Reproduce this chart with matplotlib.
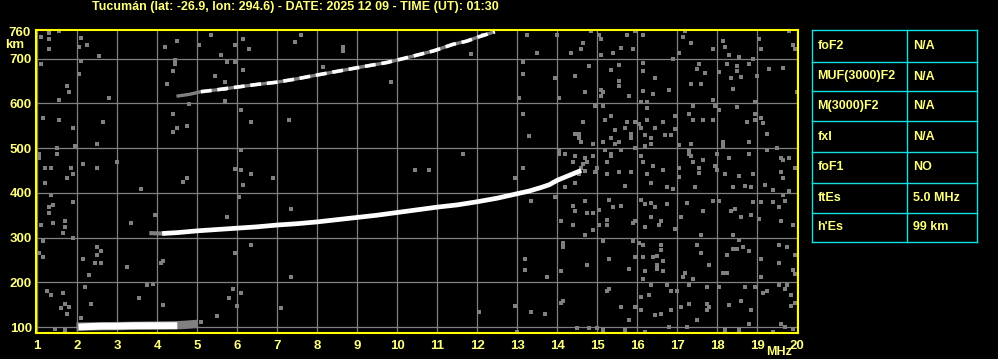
import matplotlib.pyplot as plt
import numpy as np

plt.rcParams['font.family'] = ['Liberation Sans', 'DejaVu Sans']
plt.rcParams['font.weight'] = 'bold'

W, H = 998, 359
TXT = '#ffff80'
AXC = '#ffff00'
CYAN = '#10e0e0'
GRID = '#808080'

title = 'Tucumán (lat: -26.9, lon: 294.6) - DATE: 2025 12 09 - TIME (UT): 01:30'

# traces (MHz, virtual height km)
es_mhz = [2.03, 2.3, 2.6, 3.0, 3.4, 3.8, 4.2, 4.5]
es_km = [100, 101, 102, 102, 103, 103, 103, 103]
es_tail_mhz = [1.98, 4.5, 4.7, 5.0]
es_tail_km = [101, 104, 105, 107]

f_mhz = [4.12, 4.5, 5.0, 5.5, 6.0, 6.5, 7.0, 7.5, 8.0, 8.5, 9.0, 9.5, 10.0,
         10.5, 11.0, 11.5, 12.0, 12.5, 13.0, 13.3, 13.6, 13.8, 14.0, 14.3, 14.6]
f_km = [309, 311, 315, 318, 321, 324, 328, 331, 335, 340, 345, 350, 356,
        362, 368, 373, 380, 388, 398, 404, 412, 418, 428, 439, 450]
f_tail_mhz = [3.8, 4.12]
f_tail_km = [310, 309]

f2_mhz = [4.48, 4.8, 5.09, 5.47, 5.97, 6.47, 6.97, 7.44, 7.98, 8.53, 9.15,
          9.73, 10.15, 10.9, 11.4, 11.74, 11.98, 12.44]
f2_km = [616, 620, 626, 630, 636, 642, 647, 654, 663, 672, 682,
         691, 700, 717, 732, 739, 747, 760]

noise_mhz = [1.09, 1.29, 1.30, 1.54, 1.29, 2.10, 2.24, 2.04, 2.54, 1.09, 2.09, 2.04, 1.74, 1.79,
             2.79, 1.54, 1.14, 1.54, 2.64, 1.89, 2.49, 1.94, 1.49, 1.04, 1.49, 1.04, 2.14, 1.19,
             1.34, 1.84, 2.49, 2.99, 1.89, 1.74, 4.19, 4.50, 5.04, 5.34, 5.94, 6.14, 6.29, 5.59,
             5.74, 5.94, 4.44, 4.44, 4.39, 4.24, 5.44, 5.69, 5.69, 5.69, 6.14, 4.79, 6.09, 4.39,
             6.34, 4.49, 4.74, 4.39, 6.09, 5.94, 6.09, 6.34, 4.74, 6.89, 7.29,
             1.19, 1.34, 1.89, 1.39, 1.29, 1.29, 1.39, 1.09, 1.69, 1.69, 1.64, 1.89, 1.14, 1.14,
             1.04, 2.14, 2.49, 2.59, 2.49, 2.44, 2.59, 2.29, 3.24, 3.34, 3.94, 3.59, 4.14, 4.09,
             3.74, 3.89, 2.19, 1.24, 1.34, 1.64, 1.69, 1.79, 1.59, 1.74, 2.34, 2.09, 1.44, 1.69,
             3.54, 4.14, 5.49, 5.79, 5.89, 6.09, 5.99, 5.74, 5.94, 6.34, 6.04, 6.14, 7.09, 4.64, 5.09,
             7.59, 7.44, 8.64, 8.64, 9.84, 8.14, 13.24, 13.49, 13.14, 13.14, 13.04, 13.14, 13.29,
             11.64, 10.44, 10.79, 13.14, 12.94, 11.84, 12.14,
             7.34, 7.34, 13.34, 13.19, 13.19, 12.94, 13.34, 12.04, 12.99,
             13.99, 14.84, 15.04, 15.74, 15.94, 16.14, 15.09, 14.64, 15.59, 15.89, 15.39, 14.34, 14.59,
             15.09, 17.14, 17.34, 17.19, 18.14, 18.19, 17.89, 17.04, 18.29, 18.54, 18.89, 19.04, 19.09,
             19.79, 19.89, 19.94, 16.89, 14.79, 15.34, 15.54, 16.14, 16.14, 13.94, 14.44, 15.54, 15.54,
             16.44, 17.54, 17.49, 17.69, 18.04, 18.24, 18.49, 18.49, 18.79, 18.99, 19.29, 19.64, 18.34,
             18.59, 17.34, 17.59, 18.39, 14.69, 15.09, 15.14, 15.09, 14.04, 15.79, 16.14, 16.39, 16.79,
             17.89, 19.99, 14.94, 15.14, 16.24, 16.24, 16.09, 17.39, 17.94, 18.49, 18.94, 18.04, 17.29,
             17.39, 15.19, 15.34, 15.74, 15.94, 16.04, 16.24, 16.64, 16.94, 17.64, 17.89, 18.94, 18.94,
             19.09, 19.14, 18.74, 14.64, 15.69, 15.44, 15.84, 16.09, 16.19, 16.69, 16.84, 16.94, 16.44,
             16.34, 14.44, 14.54, 14.54, 14.59, 15.34, 15.14, 14.89, 15.84, 15.54, 15.44, 16.19, 16.34,
             17.04, 17.34, 18.14, 18.14, 19.24, 18.79, 14.04, 14.04, 14.19, 15.19, 15.34, 15.34, 15.59,
             15.94, 16.09, 17.29, 17.29, 17.34, 17.99, 18.29, 18.79, 19.24, 19.49, 19.59, 19.64, 19.79,
             14.44, 14.69, 14.89, 14.74, 14.64, 14.39, 14.59, 14.69, 14.94, 14.54, 14.99, 15.24, 15.24,
             15.54, 15.84, 16.14, 16.39, 16.24, 16.64, 17.04, 17.04, 17.39, 17.54, 17.54, 17.64, 17.94,
             17.99, 18.19, 18.54, 18.89, 19.59, 19.64, 19.94,
             14.19, 14.44, 15.69, 16.34, 16.74, 16.89, 17.44, 18.39, 18.69, 18.84, 19.19, 19.39, 19.79,
             13.94, 14.39, 14.69, 14.44, 14.74, 14.89, 15.04, 15.39, 15.59, 15.29, 15.24, 15.24, 15.04,
             14.39, 14.09, 14.89, 14.69, 15.94, 15.89, 16.19, 16.09, 16.19, 16.34, 16.44, 16.74, 16.59,
             16.54, 16.34, 16.94, 17.09, 17.24, 17.64, 17.89, 18.04, 18.34, 18.44, 18.59, 18.84, 18.89,
             19.09, 19.39, 19.64, 19.69, 19.54, 19.59, 19.89, 19.04, 17.59, 18.39, 18.54, 14.14, 14.14,
             15.14, 15.89, 16.04, 16.14, 16.59, 16.59, 16.14, 15.94, 16.39, 16.49, 16.64, 16.49, 16.19,
             16.49, 16.64, 16.14, 15.29, 14.74, 14.09, 13.74, 15.79, 17.49, 17.59, 17.79, 17.39, 17.19,
             17.14, 18.14, 18.24, 18.24, 18.39, 18.49, 18.64, 18.79, 19.09, 19.54, 19.54, 19.74, 19.94,
             19.89, 19.94, 19.09, 18.04, 17.74, 17.29, 16.99, 16.84, 16.74, 16.34, 16.09, 16.29, 15.29,
             15.24, 14.09, 14.14, 13.69, 15.59, 15.94, 15.79, 16.09, 16.59, 16.44, 16.84, 17.09, 17.29,
             17.49, 17.74, 17.79, 17.74, 18.29, 18.59, 18.84, 18.69, 18.94, 19.14, 19.24, 19.54, 19.74,
             19.69, 19.84, 19.84, 19.94, 18.79, 19.59, 19.69, 14.49, 14.79, 14.99, 15.14, 15.69, 16.19,
             16.79, 17.24, 18.19, 18.54, 19.39, 19.89]
noise_km = [748, 757, 744, 762, 722, 746, 731, 726, 705, 688, 694, 665, 638, 625,
            612, 608, 567, 563, 558, 545, 509, 504, 500, 487, 487, 478, 464, 455,
            455, 455, 455, 469, 442, 433, 726, 740, 731, 753, 731, 744, 722, 708,
            692, 692, 697, 688, 673, 644, 662, 647, 633, 606, 674, 598, 586, 576,
            558, 545, 549, 536, 496, 454, 451, 442, 433, 433, 563,
            422, 395, 380, 372, 368, 355, 333, 329, 336, 324, 310, 300, 293, 257,
            266, 252, 279, 270, 261, 243, 243, 216, 235, 333, 351, 408, 248, 243,
            194, 197, 190, 181, 171, 176, 151, 145, 143, 129, 151, 121, 95, 93,
            164, 149, 124, 164, 185, 176, 147, 346, 266, 284, 391, 417, 143, 424, 111,
            753, 737, 726, 717, 647, 681, 753, 713, 692, 665, 612, 576, 527,
            487, 451, 451, 455, 433, 710, 753,
            364, 212, 382, 252, 227, 147, 134, 134, 89,
            753, 762, 753, 753, 762, 753, 744, 735, 723, 722, 713, 713, 722,
            708, 749, 735, 762, 740, 726, 722, 713, 708, 704, 699, 744, 722,
            762, 731, 722, 699, 683, 674, 686, 690, 673, 656, 661, 650, 638,
            656, 688, 677, 668, 671, 688, 683, 673, 688, 661, 677, 679, 656,
            659, 643, 643, 633, 625, 629, 625, 616, 612, 616, 628, 621, 629,
            607, 625, 594, 594, 603, 589, 603, 594, 594, 592, 603, 585, 576,
            563, 563, 572, 558, 558, 554, 563, 558, 572, 563, 563, 576, 563,
            567, 557, 558, 558, 545, 540, 531, 545, 530, 530, 530, 542, 545,
            522, 531, 531, 522, 513, 522, 513, 509, 522, 513, 509, 504, 509,
            506, 509, 513, 504, 531, 513, 496, 487, 487, 496, 482, 487, 496,
            500, 482, 496, 487, 482, 487, 478, 487, 496, 500, 478, 473, 478,
            482, 478, 482, 469, 464, 469, 455, 448, 446, 441, 455, 469, 441,
            446, 446, 469, 461, 441, 451, 455, 435, 469, 455, 444, 473, 460,
            451, 442, 438, 442, 446, 433, 455,
            413, 422, 415, 422, 413, 409, 412, 413, 415, 413, 418, 407, 404,
            391, 371, 382, 360, 355, 355, 361, 368, 371, 385, 339, 328, 328,
            328, 337, 316, 305, 336, 333, 324, 383, 376, 377, 368, 374, 337,
            327, 346, 319, 345, 377, 360, 382, 382, 360, 364, 346, 351, 380,
            379, 379, 395, 382, 368, 337, 328, 342, 306, 306, 294, 288, 279,
            293, 293, 288, 284, 284, 272, 257, 257, 257, 258, 248, 239, 226,
            230, 226, 208, 252, 239, 226, 212, 230, 284, 266, 239, 208, 221,
            212, 220, 221, 261, 275, 275, 279, 270, 252, 284, 243, 279, 261,
            227, 218, 212, 190, 190, 194, 181, 181, 194, 193, 168, 172, 185,
            181, 154, 159, 130, 144, 144, 116, 138, 130, 126, 138, 145, 151,
            116, 151, 145, 138, 150, 159, 138, 190, 190, 176, 181, 194, 194,
            185, 172, 147, 154, 107, 107, 101, 98, 98, 98, 93, 93, 89,
            101, 101, 93, 93, 89, 95]

x_ticks = list(range(1, 21))
y_ticks = [100, 200, 300, 400, 500, 600, 700]

tab_names = ['foF2', 'MUF(3000)F2', 'M(3000)F2', 'fxI', 'foF1', 'ftEs', "h'Es"]
tab_values = ['N/A', 'N/A', 'N/A', 'N/A', 'NO', '5.0 MHz', '99 km']
tab_rows_px = [30.3, 61.7, 91.3, 121.3, 151.7, 182.7, 212.7, 242.3]


def fx(px):
    return px / W


def fy(py):
    return 1 - py / H


fig = plt.figure(figsize=(W / 100, H / 100), dpi=100, facecolor='black')
ax = fig.add_axes([fx(35.5), fy(333.3), fx(798) - fx(35.5), fy(29.5) - fy(333.3)])
ax.set_facecolor('black')
ax.set_xlim(0.955, 20.02)
ax.set_ylim(86, 765)

ax.set_xticks(x_ticks)
ax.set_yticks(y_ticks)
ax.set_yticks([760], minor=True)
ax.set_yticklabels([str(v) for v in y_ticks])
ax.set_yticklabels(['760'], minor=True)
ax.grid(True, which='major', color=GRID, lw=0.9)
ax.set_axisbelow(True)
ax.tick_params(which='both', length=0, colors=TXT, labelsize=9.5)
ax.tick_params(axis='x', pad=4.5)
ax.tick_params(axis='y', pad=2.5)
for s in ax.spines.values():
    s.set_color(AXC)
    s.set_linewidth(1.5)

ax.plot(noise_mhz, noise_km, ls='none', marker='s', ms=2.2, mew=0, color=GRID)

ax.plot(es_tail_mhz, es_tail_km, color=GRID, lw=6, solid_capstyle='butt')
ax.plot(es_mhz, es_km, color='white', lw=5, solid_capstyle='butt')

ax.plot(f_tail_mhz, f_tail_km, color=GRID, lw=3, solid_capstyle='butt')
ax.plot(f_mhz, f_km, color='white', lw=3.4, solid_capstyle='butt')

ax.plot(f2_mhz, f2_km, color=GRID, lw=2.4, solid_capstyle='butt')
ax.plot(f2_mhz[2:], f2_km[2:], color='white', lw=2.6, dashes=(3, 1.6))

fig.text(fx(295), fy(7), title, color=TXT, fontsize=9, ha='center', va='center')
fig.text(fx(5.5), fy(45), 'km', color=TXT, fontsize=9.5, ha='left', va='center')
fig.text(fx(792), fy(352), 'MHz', color=TXT, fontsize=9, ha='right', va='center')

# parameter table
for y in tab_rows_px:
    fig.add_artist(plt.Line2D([fx(812.3), fx(977.3)], [fy(y), fy(y)], color=CYAN, lw=1))
for x in [812.3, 907.3, 977.3]:
    fig.add_artist(plt.Line2D([fx(x), fx(x)], [fy(30.3), fy(242.3)], color=CYAN, lw=1))
for i, (name, val) in enumerate(zip(tab_names, tab_values)):
    yc = (tab_rows_px[i] + tab_rows_px[i + 1]) / 2
    fig.text(fx(817.5), fy(yc), name, color=TXT, fontsize=9, ha='left', va='center')
    fig.text(fx(913), fy(yc), val, color=TXT, fontsize=9, ha='left', va='center')

fig.savefig('out.png', dpi=100, facecolor='black')
